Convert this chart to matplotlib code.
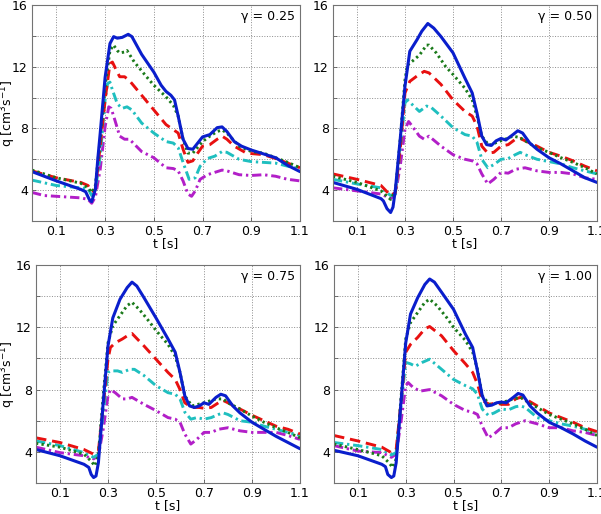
import matplotlib
matplotlib.use("Agg")
import matplotlib.pyplot as plt

plt.rcParams['font.family'] = ['DejaVu Sans']
plt.rcParams['mathtext.fontset'] = 'dejavusans'

# ---------------- data (t [s], q [cm^3 s^-1]) ----------------
gammas = ["0.25", "0.50", "0.75", "1.00"]

# gamma = 0.25
g025_solid = [(0, 5.2), (0.1, 4.6), (0.2, 4.05), (0.22, 3.9), (0.235, 3.4), (0.245, 3.25), (0.26, 4.05), (0.27, 6.0),
              (0.28, 7.7), (0.30, 11.3), (0.32, 13.5), (0.335, 13.95), (0.35, 13.85), (0.37, 13.9), (0.395, 14.1),
              (0.41, 13.95), (0.45, 12.8), (0.5, 11.65), (0.53, 10.8), (0.55, 10.4), (0.57, 10.15), (0.585, 9.85),
              (0.6, 8.8), (0.62, 7.3), (0.64, 6.7), (0.66, 6.65), (0.68, 7.05), (0.70, 7.45), (0.73, 7.6),
              (0.76, 8.05), (0.78, 8.1), (0.8, 7.8), (0.83, 7.15), (0.86, 6.85), (0.9, 6.6), (0.95, 6.35),
              (1.0, 6.1), (1.05, 5.6), (1.1, 5.2)]
g025_dot = [(0, 5.3), (0.1, 4.8), (0.2, 4.45), (0.23, 4.15), (0.245, 3.85), (0.26, 4.3), (0.28, 7.3), (0.30, 10.7),
            (0.32, 13.05), (0.335, 13.4), (0.35, 13.05), (0.36, 12.9), (0.38, 12.95), (0.39, 13.05), (0.42, 12.3),
            (0.47, 11.35), (0.5, 10.8), (0.55, 10.05), (0.58, 9.5), (0.6, 8.8), (0.62, 7.3), (0.64, 6.4),
            (0.66, 6.4), (0.7, 7.15), (0.73, 7.5), (0.76, 7.8), (0.78, 7.9), (0.8, 7.7), (0.85, 6.85), (0.9, 6.5),
            (0.95, 6.4), (1.0, 6.1), (1.05, 5.8), (1.1, 5.45)]
g025_dash = [(0, 5.25), (0.1, 4.8), (0.2, 4.5), (0.23, 4.3), (0.245, 3.9), (0.26, 4.05), (0.28, 6.85), (0.30, 9.85),
             (0.32, 12.2), (0.33, 12.3), (0.35, 11.65), (0.36, 11.35), (0.38, 11.35), (0.40, 11.1), (0.45, 10.15),
             (0.5, 9.2), (0.55, 8.25), (0.6, 7.7), (0.62, 6.65), (0.64, 5.8), (0.66, 5.9), (0.68, 6.4), (0.7, 6.85),
             (0.73, 6.95), (0.76, 7.3), (0.78, 7.5), (0.8, 7.3), (0.83, 6.85), (0.88, 6.4), (0.95, 6.3),
             (1.0, 6.05), (1.05, 5.75), (1.1, 5.45)]
g025_cyan = [(0, 4.65), (0.1, 4.3), (0.2, 4.15), (0.23, 4.1), (0.245, 3.65), (0.26, 3.95), (0.28, 6.2), (0.30, 9.85),
             (0.31, 10.9), (0.32, 11.0), (0.33, 10.5), (0.35, 9.6), (0.37, 9.3), (0.39, 9.4), (0.41, 9.2),
             (0.45, 8.35), (0.5, 7.7), (0.55, 7.15), (0.58, 7.05), (0.6, 6.75), (0.62, 5.8), (0.645, 4.7),
             (0.67, 4.8), (0.69, 5.55), (0.72, 6.05), (0.75, 6.2), (0.78, 6.5), (0.8, 6.45), (0.85, 6.0),
             (0.9, 5.85), (0.95, 5.8), (1.0, 5.75), (1.05, 5.55), (1.1, 5.35)]
g025_purple = [(0, 3.85), (0.05, 3.65), (0.1, 3.6), (0.2, 3.5), (0.23, 3.4), (0.245, 3.15), (0.26, 3.55), (0.28, 5.35),
               (0.30, 8.1), (0.315, 9.4), (0.325, 9.3), (0.34, 8.55), (0.36, 7.5), (0.38, 7.3), (0.40, 7.3),
               (0.45, 6.5), (0.5, 6.1), (0.55, 5.45), (0.58, 5.4), (0.6, 5.25), (0.62, 4.6), (0.64, 3.75),
               (0.655, 3.6), (0.67, 3.95), (0.69, 4.7), (0.72, 5.0), (0.75, 5.15), (0.78, 5.3), (0.8, 5.25),
               (0.85, 5.0), (0.9, 4.95), (0.95, 5.0), (1.0, 4.9), (1.05, 4.7), (1.1, 4.6)]

# gamma = 0.50
g050_solid = [(0, 4.5), (0.1, 4.05), (0.2, 3.45), (0.21, 3.3), (0.225, 2.8), (0.24, 2.55), (0.25, 2.9), (0.26, 4.05),
              (0.28, 7.3), (0.30, 10.75), (0.32, 13.0), (0.35, 13.75), (0.37, 14.3), (0.395, 14.8), (0.42, 14.5),
              (0.45, 13.95), (0.5, 12.9), (0.55, 11.25), (0.58, 10.3), (0.6, 9.0), (0.62, 7.5), (0.64, 6.95),
              (0.66, 6.9), (0.68, 7.2), (0.7, 7.35), (0.72, 7.25), (0.75, 7.6), (0.77, 7.85), (0.79, 7.7),
              (0.82, 7.05), (0.85, 6.65), (0.9, 6.1), (0.95, 5.7), (1.0, 5.25), (1.05, 4.8), (1.1, 4.5)]
g050_dot = [(0, 4.9), (0.1, 4.5), (0.2, 3.95), (0.24, 3.4), (0.26, 3.95), (0.28, 7.3), (0.30, 11.15), (0.31, 12.1),
            (0.33, 12.35), (0.36, 12.75), (0.39, 13.4), (0.40, 13.4), (0.43, 12.9), (0.47, 12.0), (0.5, 11.5),
            (0.55, 10.6), (0.58, 9.85), (0.6, 8.8), (0.62, 7.5), (0.65, 6.9), (0.7, 7.2), (0.75, 7.5), (0.78, 7.4),
            (0.8, 7.2), (0.85, 6.75), (0.9, 6.45), (0.95, 6.1), (1.0, 5.8), (1.05, 5.45), (1.1, 5.05)]
g050_dash = [(0, 5.05), (0.1, 4.7), (0.2, 4.3), (0.24, 3.65), (0.26, 3.85), (0.28, 6.65), (0.30, 10.3), (0.32, 11.05),
             (0.35, 11.4), (0.38, 11.7), (0.40, 11.6), (0.45, 10.85), (0.5, 9.85), (0.55, 9.1), (0.58, 8.8),
             (0.6, 8.15), (0.62, 6.85), (0.645, 6.4), (0.67, 6.45), (0.7, 6.85), (0.73, 6.95), (0.76, 7.3),
             (0.78, 7.35), (0.8, 7.2), (0.85, 6.85), (0.9, 6.45), (0.95, 6.2), (1.0, 5.9), (1.05, 5.55), (1.1, 5.25)]
g050_cyan = [(0, 4.7), (0.1, 4.4), (0.2, 4.15), (0.24, 3.65), (0.26, 3.75), (0.28, 6.65), (0.30, 9.65), (0.31, 9.85),
             (0.33, 9.55), (0.36, 9.1), (0.39, 9.45), (0.41, 9.35), (0.45, 8.8), (0.5, 8.05), (0.55, 7.6),
             (0.58, 7.5), (0.6, 7.1), (0.62, 6.0), (0.645, 5.45), (0.67, 5.65), (0.7, 6.0), (0.73, 6.05),
             (0.76, 6.3), (0.78, 6.45), (0.8, 6.3), (0.85, 6.0), (0.9, 5.85), (0.95, 5.7), (1.0, 5.45),
             (1.05, 5.25), (1.1, 5.05)]
g050_purple = [(0, 4.15), (0.1, 3.95), (0.2, 3.75), (0.24, 3.45), (0.26, 3.75), (0.28, 5.55), (0.30, 7.95),
               (0.315, 8.45), (0.33, 8.15), (0.36, 7.5), (0.38, 7.3), (0.40, 7.5), (0.45, 6.85), (0.5, 6.3),
               (0.55, 6.0), (0.58, 5.9), (0.6, 5.7), (0.62, 5.05), (0.645, 4.4), (0.67, 4.7), (0.7, 5.15),
               (0.73, 5.1), (0.76, 5.35), (0.8, 5.45), (0.85, 5.25), (0.9, 5.15), (0.95, 5.15), (1.0, 5.05),
               (1.05, 4.8), (1.1, 4.7)]

# gamma = 0.75
g075_solid = [(0, 4.15), (0.1, 3.75), (0.2, 3.2), (0.22, 3.0), (0.23, 2.55), (0.24, 2.35), (0.25, 2.45), (0.26, 3.3),
              (0.28, 7.15), (0.30, 10.8), (0.32, 12.6), (0.35, 13.8), (0.38, 14.55), (0.40, 14.9), (0.42, 14.65),
              (0.45, 13.9), (0.5, 12.6), (0.55, 11.25), (0.58, 10.4), (0.6, 9.1), (0.62, 7.6), (0.64, 6.95),
              (0.66, 6.85), (0.68, 6.95), (0.7, 7.15), (0.72, 7.05), (0.75, 7.5), (0.77, 7.7), (0.79, 7.6),
              (0.82, 6.95), (0.85, 6.5), (0.9, 5.9), (0.95, 5.45), (1.0, 5.0), (1.05, 4.6), (1.1, 4.2)]
g075_dot = [(0, 4.55), (0.1, 4.3), (0.2, 3.85), (0.23, 3.4), (0.245, 3.1), (0.26, 3.75), (0.28, 7.6), (0.30, 11.0),
            (0.32, 12.1), (0.35, 12.75), (0.38, 13.4), (0.40, 13.6), (0.43, 13.15), (0.47, 12.4), (0.5, 11.8),
            (0.55, 10.9), (0.58, 10.15), (0.6, 9.1), (0.62, 7.6), (0.65, 6.95), (0.7, 7.15), (0.75, 7.4),
            (0.78, 7.4), (0.8, 7.15), (0.85, 6.75), (0.9, 6.3), (0.95, 5.9), (1.0, 5.55), (1.05, 5.25), (1.1, 4.9)]
g075_dash = [(0, 4.9), (0.1, 4.6), (0.2, 4.15), (0.24, 3.85), (0.26, 4.05), (0.28, 6.95), (0.30, 9.95), (0.31, 10.7),
             (0.33, 11.0), (0.36, 11.25), (0.39, 11.55), (0.40, 11.6), (0.45, 10.8), (0.5, 9.95), (0.55, 9.1),
             (0.58, 8.65), (0.6, 8.0), (0.62, 7.15), (0.65, 6.85), (0.68, 6.85), (0.7, 6.8), (0.73, 6.85),
             (0.76, 7.15), (0.78, 7.3), (0.8, 7.15), (0.85, 6.75), (0.9, 6.35), (0.95, 6.0), (1.0, 5.65),
             (1.05, 5.45), (1.1, 5.15)]
g075_cyan = [(0, 4.7), (0.1, 4.4), (0.2, 3.95), (0.24, 3.65), (0.26, 3.85), (0.28, 6.5), (0.30, 9.1), (0.31, 9.2),
             (0.34, 9.2), (0.36, 9.1), (0.39, 9.3), (0.41, 9.3), (0.45, 8.9), (0.5, 8.25), (0.55, 7.8), (0.58, 7.7),
             (0.6, 7.4), (0.62, 6.55), (0.645, 6.1), (0.67, 6.2), (0.7, 6.1), (0.73, 6.2), (0.76, 6.4), (0.78, 6.5),
             (0.8, 6.4), (0.85, 6.0), (0.9, 5.9), (0.95, 5.65), (1.0, 5.45), (1.05, 5.25), (1.1, 5.05)]
g075_purple = [(0, 4.3), (0.1, 3.95), (0.2, 3.75), (0.24, 3.55), (0.26, 3.75), (0.28, 5.45), (0.30, 7.6), (0.31, 8.0),
               (0.33, 7.8), (0.36, 7.4), (0.38, 7.4), (0.40, 7.5), (0.45, 7.05), (0.5, 6.65), (0.55, 6.2),
               (0.58, 6.1), (0.6, 5.9), (0.62, 5.15), (0.645, 4.5), (0.67, 4.8), (0.7, 5.25), (0.73, 5.25),
               (0.76, 5.45), (0.8, 5.55), (0.85, 5.35), (0.9, 5.25), (0.95, 5.25), (1.0, 5.25), (1.05, 5.05),
               (1.1, 4.8)]

# gamma = 1.00
g100_solid = [(0, 4.1), (0.1, 3.75), (0.2, 3.2), (0.215, 3.05), (0.225, 2.55), (0.24, 2.35), (0.25, 2.45),
              (0.26, 3.3), (0.28, 7.15), (0.30, 11.0), (0.32, 12.85), (0.35, 13.9), (0.38, 14.75), (0.40, 15.1),
              (0.42, 14.9), (0.45, 14.25), (0.5, 13.15), (0.55, 11.55), (0.58, 10.7), (0.6, 9.2), (0.62, 7.6),
              (0.64, 6.95), (0.66, 7.0), (0.68, 7.15), (0.7, 7.2), (0.72, 7.15), (0.75, 7.5), (0.77, 7.75),
              (0.79, 7.65), (0.82, 6.95), (0.85, 6.5), (0.9, 5.9), (0.95, 5.55), (1.0, 5.15), (1.05, 4.7),
              (1.1, 4.3)]
g100_dot = [(0, 4.5), (0.1, 4.15), (0.2, 3.75), (0.23, 3.3), (0.245, 3.0), (0.26, 3.55), (0.28, 7.4), (0.30, 11.25),
            (0.32, 12.3), (0.35, 12.95), (0.38, 13.6), (0.40, 13.8), (0.43, 13.4), (0.47, 12.65), (0.5, 12.0),
            (0.55, 11.15), (0.58, 10.4), (0.6, 9.3), (0.62, 7.6), (0.65, 7.05), (0.7, 7.15), (0.75, 7.4),
            (0.78, 7.5), (0.8, 7.3), (0.85, 6.85), (0.9, 6.4), (0.95, 6.1), (1.0, 5.8), (1.05, 5.45), (1.1, 5.05)]
g100_dash = [(0, 5.05), (0.1, 4.7), (0.2, 4.3), (0.24, 3.95), (0.26, 4.15), (0.28, 7.15), (0.30, 10.4), (0.32, 10.9),
             (0.35, 11.35), (0.38, 11.9), (0.40, 12.05), (0.45, 11.45), (0.5, 10.5), (0.55, 9.65), (0.58, 9.1),
             (0.6, 8.35), (0.62, 7.3), (0.65, 7.05), (0.68, 7.15), (0.7, 7.05), (0.73, 7.05), (0.76, 7.4),
             (0.78, 7.5), (0.8, 7.4), (0.85, 6.95), (0.9, 6.5), (0.95, 6.2), (1.0, 5.9), (1.05, 5.55), (1.1, 5.3)]
g100_cyan = [(0, 4.6), (0.1, 4.4), (0.2, 4.15), (0.24, 3.8), (0.26, 3.95), (0.28, 6.95), (0.30, 9.75), (0.32, 9.65),
             (0.34, 9.5), (0.37, 9.75), (0.40, 9.95), (0.45, 9.3), (0.5, 8.65), (0.55, 8.25), (0.58, 8.05),
             (0.6, 7.7), (0.62, 6.75), (0.645, 6.35), (0.67, 6.5), (0.7, 6.75), (0.73, 6.7), (0.76, 6.9),
             (0.78, 6.95), (0.8, 6.85), (0.85, 6.2), (0.9, 6.0), (0.95, 5.8), (1.0, 5.65), (1.05, 5.45), (1.1, 5.25)]
g100_purple = [(0, 4.4), (0.1, 4.05), (0.2, 3.95), (0.24, 3.65), (0.26, 3.85), (0.28, 5.9), (0.30, 8.25), (0.31, 8.45),
               (0.33, 8.15), (0.36, 7.9), (0.40, 8.0), (0.45, 7.6), (0.5, 7.05), (0.55, 6.65), (0.58, 6.55),
               (0.6, 6.4), (0.62, 5.65), (0.645, 4.9), (0.67, 5.15), (0.7, 5.55), (0.73, 5.55), (0.76, 5.8),
               (0.8, 6.0), (0.85, 5.8), (0.9, 5.55), (0.95, 5.55), (1.0, 5.35), (1.05, 5.25), (1.1, 5.05)]

panels = [
    [g025_purple, g025_cyan, g025_dash, g025_dot, g025_solid],
    [g050_purple, g050_cyan, g050_dash, g050_dot, g050_solid],
    [g075_purple, g075_cyan, g075_dash, g075_dot, g075_solid],
    [g100_purple, g100_cyan, g100_dash, g100_dot, g100_solid],
]

x_ticks = [0.1, 0.3, 0.5, 0.7, 0.9, 1.1]
x_ticklabels = ["0.1", "0.3", "0.5", "0.7", "0.9", "1.1"]
y_ticks = [4, 6, 8, 10, 12, 14, 16]
y_ticklabels = ["4", "", "8", "", "12", "", "16"]

# ---------------- styling ----------------
styles = [
    dict(color="#B21FC8", lw=2.1, dashes=(3.2, 1.3, 0.8, 1.3)),   # purple dash-dot
    dict(color="#1FBFBF", lw=2.1, dashes=(3.2, 1.3, 0.8, 1.3)),   # cyan dash-dot
    dict(color="#E81010", lw=2.1, dashes=(3.6, 2.0)),             # red dashed
    dict(color="#1A7A1A", lw=2.1, dashes=(0.8, 1.1)),             # green dotted
    dict(color="#0A1ECC", lw=2.2, ls="-"),                        # blue solid
]

W, H = 601, 514
fig = plt.figure(figsize=(W / 100, H / 100), dpi=100)
boxes = [(32, 300, 5, 221), (333, 597, 5, 221), (36, 300, 265, 483), (334, 597, 265, 483)]

for i, (box, series) in enumerate(zip(boxes, panels)):
    l, r, t, b = box
    ax = fig.add_axes([l / W, 1 - b / H, (r - l) / W, (b - t) / H])
    for data, st in zip(series, styles):
        tt = [p[0] for p in data]
        qq = [p[1] for p in data]
        kw = dict(color=st["color"], lw=st["lw"], solid_capstyle="round", dash_capstyle="butt")
        if "dashes" in st:
            ax.plot(tt, qq, dashes=st["dashes"], **kw)
        else:
            ax.plot(tt, qq, ls="-", **kw)
    ax.set_xlim(0, 1.1)
    ax.set_ylim(2, 16)
    ax.set_xticks(x_ticks)
    ax.set_xticklabels(x_ticklabels)
    ax.set_yticks(y_ticks)
    ax.set_yticklabels(y_ticklabels)
    ax.grid(True, ls=":", color="0.55", lw=0.7)
    ax.tick_params(direction="in", length=3, width=0.6, labelsize=9, pad=3, colors="0.35", labelcolor="black")
    for s in ax.spines.values():
        s.set_color("0.45")
        s.set_linewidth(0.8)
    ax.set_xlabel("t [s]", fontsize=9, labelpad=-1)
    if i % 2 == 0:
        ax.set_ylabel(r"q [cm$^{3}$s$^{-1}$]", fontsize=9)
        ax.yaxis.set_label_coords((18 - l) / (r - l), 0.5)
    ax.text(0.98, 0.945, "γ = " + gammas[i], transform=ax.transAxes, ha="right", va="center", fontsize=9)

fig.savefig("out.png", dpi=100)
